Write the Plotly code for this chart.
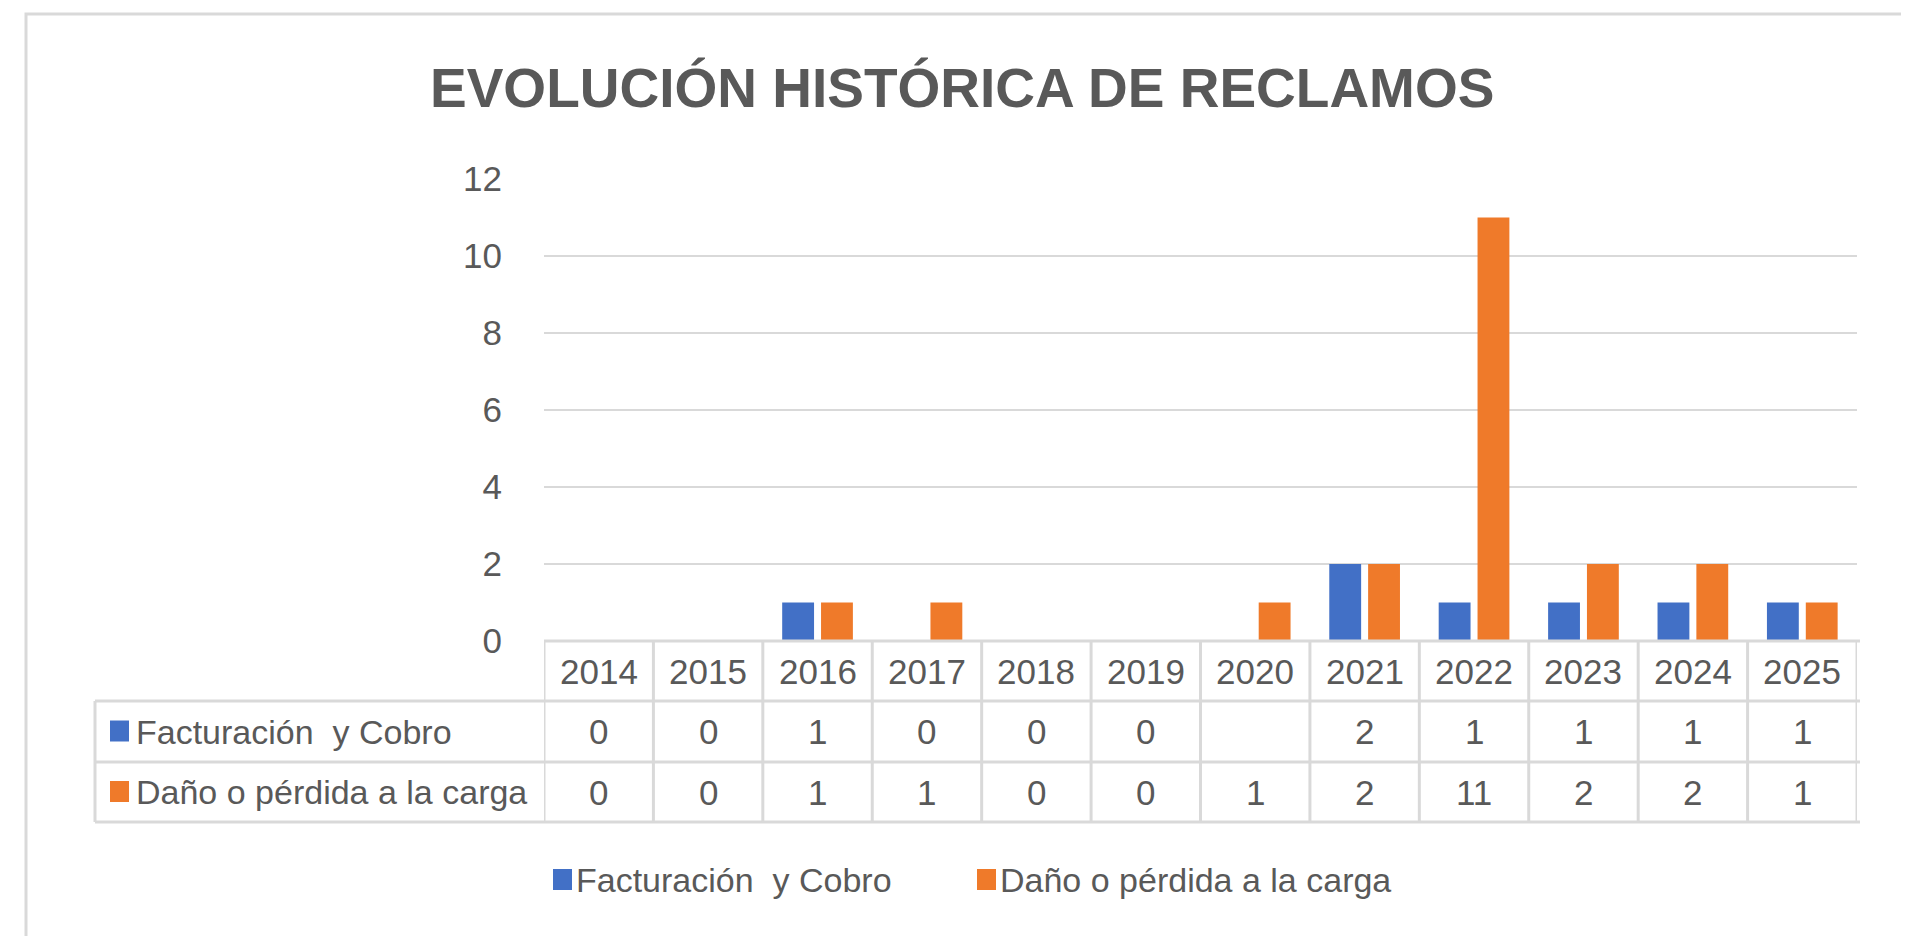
import plotly.graph_objects as go

# ---------------- data ----------------
years = ["2014", "2015", "2016", "2017", "2018", "2019", "2020", "2021", "2022", "2023", "2024", "2025"]
facturacion = [0, 0, 1, 0, 0, 0, None, 2, 1, 1, 1, 1]
dano = [0, 0, 1, 1, 0, 0, 1, 2, 11, 2, 2, 1]
series_names = ["Facturación\u00a0 y Cobro", "Daño o pérdida a la carga"]
title_text = "EVOLUCIÓN HISTÓRICA DE RECLAMOS"
y_ticks = [0, 2, 4, 6, 8, 10, 12]

# ---------------- styling ----------------
W, H = 1909, 936
OFF = 8  # page body margin
BLUE = "#4270C6"
ORANGE = "#EF7A2A"
TXT = "#595959"
GRID = "#D9D9D9"
FONT = "Liberation Sans, Arial, sans-serif"


def px(x):
    return (x - OFF) / W


def py(y):
    return 1 - (y - OFF) / H


PLOT_L, PLOT_R = 544, 1857
Y0, Y12 = 641, 179
TAB_TOP, ROW1, ROW2, TAB_BOT = 641, 701, 762, 822
TAB_L, TAB_R = 95, 1860

fig = go.Figure()
fig.add_trace(go.Bar(x=years, y=facturacion, name=series_names[0],
                     marker=dict(color=BLUE, line=dict(width=0)), showlegend=False))
fig.add_trace(go.Bar(x=years, y=dano, name=series_names[1],
                     marker=dict(color=ORANGE, line=dict(width=0)), showlegend=False))

shapes = []
# outer chart border
shapes.append(dict(type="rect", xref="paper", yref="paper", x0=px(26), x1=px(1906),
                   y0=py(960), y1=py(14), line=dict(color=GRID, width=3), layer="below"))
# table horizontal lines
shapes.append(dict(type="line", xref="paper", yref="paper", x0=px(PLOT_L), x1=px(TAB_R),
                   y0=py(TAB_TOP), y1=py(TAB_TOP), line=dict(color=GRID, width=3)))
for yy in (ROW1, ROW2, TAB_BOT):
    shapes.append(dict(type="line", xref="paper", yref="paper", x0=px(TAB_L), x1=px(TAB_R),
                       y0=py(yy), y1=py(yy), line=dict(color=GRID, width=3)))
# table vertical lines (category boundaries)
for k in range(len(years) + 1):
    shapes.append(dict(type="line", xref="x", yref="paper", x0=k - 0.5, x1=k - 0.5,
                       y0=py(TAB_TOP), y1=py(TAB_BOT), line=dict(color=GRID, width=3)))
shapes.append(dict(type="line", xref="paper", yref="paper", x0=px(TAB_L), x1=px(TAB_L),
                   y0=py(ROW1), y1=py(TAB_BOT), line=dict(color=GRID, width=3)))

annotations = []
# title
annotations.append(dict(text=f"<b>{title_text}</b>", xref="paper", yref="paper",
                        x=px(962), y=py(88), xanchor="center", yanchor="middle",
                        showarrow=False, font=dict(family=FONT, size=55, color=TXT)))

tfont = dict(family=FONT, size=35, color=TXT)
lfont = dict(family=FONT, size=34, color=TXT)
row_y = [(TAB_TOP + ROW1) / 2, (ROW1 + ROW2) / 2, (ROW2 + TAB_BOT) / 2]
for i, yr in enumerate(years):
    annotations.append(dict(text=yr, xref="x", yref="paper", x=i, y=py(row_y[0]),
                            showarrow=False, font=tfont, xanchor="center", yanchor="middle"))
    for vals, ry in ((facturacion, row_y[1]), (dano, row_y[2])):
        v = vals[i]
        if v is not None:
            annotations.append(dict(text=str(v), xref="x", yref="paper", x=i, y=py(ry),
                                    showarrow=False, font=tfont, xanchor="center", yanchor="middle"))

# row labels with colour keys
for name, col, ry in ((series_names[0], BLUE, row_y[1]), (series_names[1], ORANGE, row_y[2])):
    shapes.append(dict(type="rect", xref="paper", yref="paper", x0=px(110), x1=px(129),
                       y0=py(ry + 10), y1=py(ry - 11), fillcolor=col, line=dict(width=0)))
    annotations.append(dict(text=name, xref="paper", yref="paper", x=px(134), y=py(ry),
                            showarrow=False, font=lfont, xanchor="left", yanchor="middle"))

# bottom legend
LEG_Y = 880
for name, col, x0 in ((series_names[0], BLUE, 553), (series_names[1], ORANGE, 977)):
    shapes.append(dict(type="rect", xref="paper", yref="paper", x0=px(x0), x1=px(x0 + 19),
                       y0=py(LEG_Y + 10), y1=py(LEG_Y - 11), fillcolor=col, line=dict(width=0)))
    annotations.append(dict(text=name, xref="paper", yref="paper", x=px(x0 + 21), y=py(LEG_Y),
                            showarrow=False, font=lfont, xanchor="left", yanchor="middle"))

fig.update_layout(
    width=W, height=H, autosize=False,
    margin=dict(l=0, r=0, t=0, b=0, pad=0, autoexpand=False),
    paper_bgcolor="white", plot_bgcolor="white",
    barmode="group", bargap=0.29, bargroupgap=0.18,
    shapes=shapes, annotations=annotations,
    xaxis=dict(domain=[px(PLOT_L), px(PLOT_R)], range=[-0.5, len(years) - 0.5],
               showticklabels=False, showgrid=False, zeroline=False, showline=False,
               ticks="", fixedrange=True, automargin=False),
    yaxis=dict(domain=[py(Y0), py(Y12)], range=[0, 12], tickvals=y_ticks,
               showgrid=True, gridcolor=GRID, gridwidth=2, zeroline=False, showline=False,
               ticks="", ticklabelstandoff=41, automargin=False,
               tickfont=dict(family=FONT, size=35, color=TXT)),
    showlegend=False,
)

fig.write_html("out.html")
